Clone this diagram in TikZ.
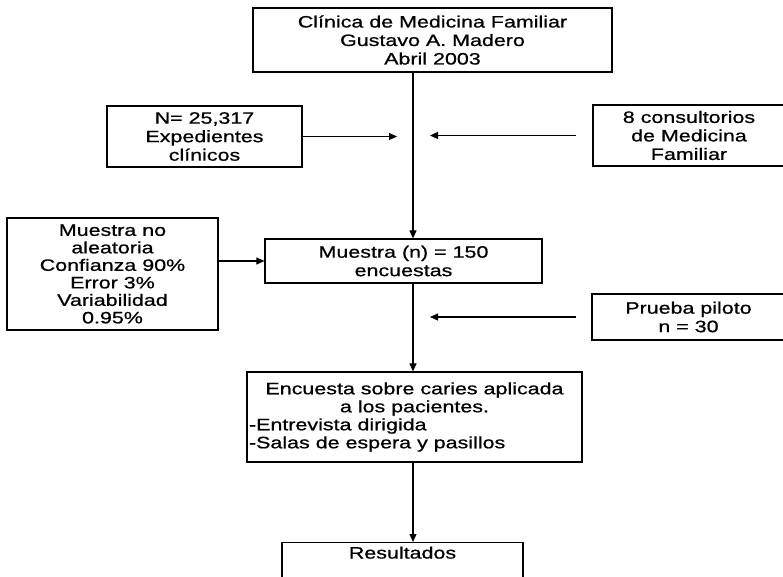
\documentclass[tikz,border=0pt]{standalone}
\usepackage{fontspec}
\setmainfont{Liberation Sans}[FakeStretch=1.3,FakeBold=0.8]
\usetikzlibrary{arrows.meta,positioning,calc}

\begin{document}
\begin{tikzpicture}[
  x=1pt, y=-1pt,
  every node/.style={font=\fontsize{16.5}{18.5}\selectfont},
  caja/.style={draw,line width=1.2pt,align=center,inner sep=2pt},
  flecha/.style={line width=1.1pt,-{Triangle[length=8pt,width=7pt]}},
]
  \useasboundingbox (0,0) rectangle (783,577);
  % eje central
  \coordinate (eje) at (413,0);

  % Caja 1
  \node[caja,minimum width=359pt,minimum height=64pt] (clinica) at (432.5,40) {%
    Clínica de Medicina Familiar\\Gustavo A. Madero\\Abril 2003};
  % Cajas 2 y 3
  \node[caja,minimum width=195pt,minimum height=61pt] (expedientes) at (204.5,136.5) {%
    N= 25,317\\Expedientes\\clínicos};
  \node[caja,minimum width=192pt,minimum height=61pt] (consultorios) at (689,135.5) {%
    8 consultorios\\de Medicina\\Familiar};
  % Caja 4
  \node[caja,minimum width=211pt,minimum height=112pt,
        font=\fontsize{16.5}{17.5}\selectfont] (aleatoria) at (112.5,274) {%
    Muestra no\\aleatoria\\Confianza 90\%\\Error 3\%\\Variabilidad\\0.95\%};
  % Caja 5
  \node[caja,minimum width=277pt,minimum height=44pt] (muestra) at (403.5,261) {%
    Muestra (n) = 150\\encuestas};
  % Caja 6
  \node[caja,minimum width=193pt,minimum height=46pt] (piloto) at (688.5,317) {%
    Prueba piloto\\n = 30};
  % Caja 7
  \node[caja,align=left,minimum width=335pt,minimum height=90pt,
        font=\fontsize{16.5}{18}\selectfont] (encuesta) at (414.5,417) {%
    \makebox[331pt][c]{Encuesta sobre caries aplicada}\\
    \makebox[331pt][c]{a los pacientes.}\\
    -Entrevista dirigida\\
    -Salas de espera y pasillos};
  % Caja 8
  \node[caja,minimum width=241pt,anchor=north,inner ysep=4pt,text depth=40pt] (resultados)
    at (402.5,542) {Resultados};

  % Flechas
  \draw[flecha] (clinica.south -| eje) -- (muestra.north -| eje);
  \draw[flecha] (expedientes.east) -- ($(expedientes.east -| eje)+(-16,0)$);
  \draw[flecha] ($(consultorios.west)+(-16,0)$) -- ($(consultorios.west -| eje)+(17,0)$);
  \draw[flecha] (aleatoria.east |- muestra.west) -- (muestra.west);
  \draw[flecha] (muestra.south -| eje) -- (encuesta.north -| eje);
  \draw[flecha] ($(piloto.west)+(-15,0)$) -- ($(piloto.west -| eje)+(17,0)$);
  \draw[flecha] (encuesta.south -| eje) -- (resultados.north -| eje);
\end{tikzpicture}
\end{document}
